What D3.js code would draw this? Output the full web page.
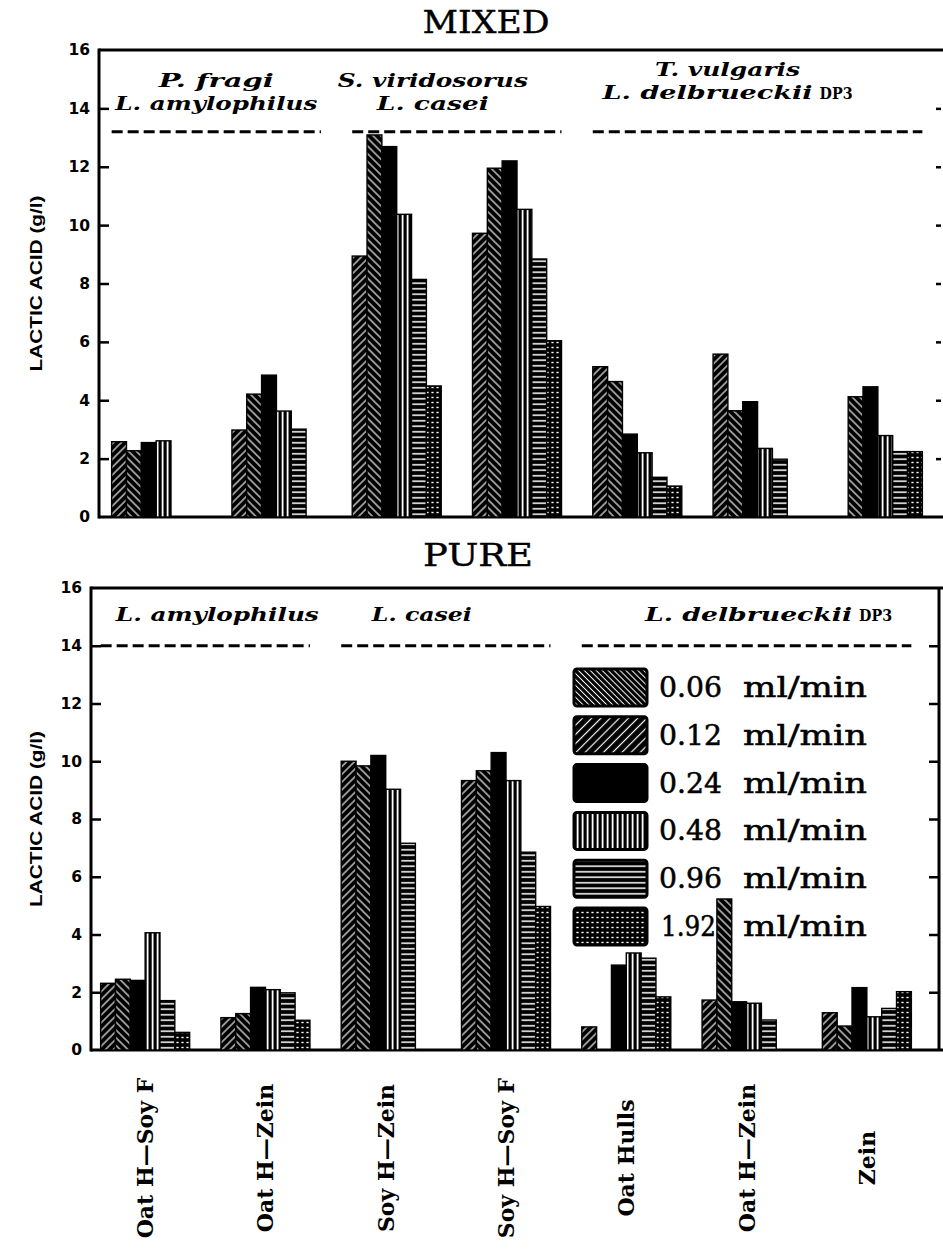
<!DOCTYPE html>
<html><head><meta charset="utf-8">
<script src="https://cdn.jsdelivr.net/npm/d3@7"></script>
<style>body{margin:0;background:#fff} svg{display:block}</style>
</head><body>
<svg id="chart" width="943" height="1252"></svg>
<script>
// ---------- DATA ----------
const categories = ["Oat H\u2014Soy F","Oat H\u2014Zein","Soy H\u2014Zein","Soy H\u2014Soy F","Oat Hulls","Oat H\u2014Zein","Zein"];
const flowRates = ["0.06","0.12","0.24","0.48","0.96","1.92"];
const flowUnit = "ml/min";
const yTicks = [0,2,4,6,8,10,12,14,16];

// MIXED culture, lactic acid (g/l), one array per flow rate, one value per category
const mixed006 = [2.58, 2.98, 8.94, 9.72, 5.15, 5.58, 0];
const mixed012 = [2.27, 4.21, 13.09, 11.95, 4.64, 3.64, 4.12];
const mixed024 = [2.55, 4.86, 12.69, 12.20, 2.84, 3.95, 4.46];
const mixed048 = [2.61, 3.63, 10.37, 10.54, 2.20, 2.35, 2.79];
const mixed096 = [0, 3.01, 8.14, 8.84, 1.36, 1.98, 2.24];
const mixed192 = [0, 0, 4.49, 6.04, 1.06, 0, 2.24];

// PURE culture
const pure006 = [2.31, 1.12, 10.00, 9.33, 0.80, 1.73, 1.29];
const pure012 = [2.45, 1.26, 9.84, 9.67, 0, 5.23, 0.83];
const pure024 = [2.41, 2.17, 10.20, 10.30, 2.94, 1.67, 2.16];
const pure048 = [4.06, 2.09, 9.03, 9.33, 3.36, 1.62, 1.15];
const pure096 = [1.71, 1.98, 7.16, 6.85, 3.18, 1.04, 1.44];
const pure192 = [0.61, 1.03, 0, 4.97, 1.84, 0, 2.02];

// organism annotations: which categories each covers
const organismSpans = [[0,1],[2,3],[4,6]];
const mixedOrganisms = [["P. fragi","L. amylophilus"],["S. viridosorus","L. casei"],["T. vulgaris","L. delbrueckii"]];
const pureOrganisms = [["L. amylophilus"],["L. casei"],["L. delbrueckii"]];
const strainTags = ["","","DP3"];
const dividerLevels = [13.2, 14];   // dashed separator level (g/l) : mixed, pure

// ---------- STYLE / LAYOUT ----------
const W = 943, H = 1252;
const barPatterns = ["fwd","back","solid","vert","horiz","dots"];
const legendPatterns = ["backDense","fwdWide","solid","vert","horiz","dots"];

const panels = [
  { title:"MIXED", series:[mixed006,mixed012,mixed024,mixed048,mixed096,mixed192],
    orgs:mixedOrganisms, divider:dividerLevels[0],
    left:99, right:941, top:50, bottom:517, band:[96,938], rightTick:5, rightLine:false,
    titleX:486, titleY:33, titleLen:127,
    lineBase:[[37,60],[37,60],[26,49]], labelShift:[0,-24,-30],
    lineLen:[[115,202],[190,112],[145,210]] },
  { title:"PURE", series:[pure006,pure012,pure024,pure048,pure096,pure192],
    orgs:pureOrganisms, divider:dividerLevels[1],
    left:91, right:939, top:588, bottom:1050, band:[85,927], rightTick:10, rightLine:true,
    titleX:478, titleY:566, titleLen:110,
    lineBase:[[33],[33],[33]], labelShift:[12,-24,22],
    lineLen:[[203],[100],[207]] }
];

const svg = d3.select("#chart");
svg.append("rect").attr("width",W).attr("height",H).attr("fill","#fff");
const defs = svg.append("defs");

function hatch(id, period, angle, lw){
  const p = defs.append("pattern").attr("id",id).attr("patternUnits","userSpaceOnUse")
    .attr("width",period).attr("height",period).attr("patternTransform",`rotate(${angle})`);
  p.append("rect").attr("width",period).attr("height",period).attr("fill","#000");
  p.append("rect").attr("x",(period-lw)/2).attr("width",lw).attr("height",period).attr("fill","#fff");
}
hatch("fwd",5.5,45,1.1);
hatch("back",5.5,-45,1.1);
hatch("backDense",4.2,-45,1.0);
hatch("fwdWide",6.5,45,1.2);
(function(){
  let p = defs.append("pattern").attr("id","vert").attr("patternUnits","userSpaceOnUse").attr("width",5).attr("height",5);
  p.append("rect").attr("width",5).attr("height",5).attr("fill","#000");
  p.append("rect").attr("x",1.7).attr("width",1.8).attr("height",5).attr("fill","#fff");
  p = defs.append("pattern").attr("id","horiz").attr("patternUnits","userSpaceOnUse").attr("width",5).attr("height",5.5);
  p.append("rect").attr("width",5).attr("height",5.5).attr("fill","#000");
  p.append("rect").attr("y",2).attr("width",5).attr("height",1.5).attr("fill","#fff");
  p = defs.append("pattern").attr("id","dots").attr("patternUnits","userSpaceOnUse").attr("width",5).attr("height",5);
  p.append("rect").attr("width",5).attr("height",5).attr("fill","#000");
  p.append("rect").attr("x",1.4).attr("y",1.8).attr("width",2.2).attr("height",1.4).attr("fill","#fff");
})();
const fillOf = id => id === "solid" ? "#000" : `url(#${id})`;

panels.forEach((P, pi) => {
  const g = svg.append("g");
  const y = d3.scaleLinear().domain([0,16]).range([P.bottom, P.top]);
  const xb = d3.scaleBand().domain(d3.range(categories.length)).range(P.band)
    .paddingInner(0.26).paddingOuter(0.13);
  const xs = d3.scaleBand().domain(d3.range(flowRates.length)).range([0, xb.bandwidth()]);

  // title
  g.append("text").attr("x",P.titleX).attr("y",P.titleY).attr("text-anchor","middle")
    .attr("font-family","'DejaVu Serif', serif").attr("font-size",31)
    .attr("stroke","#000").attr("stroke-width",0.4)
    .attr("textLength",P.titleLen).attr("lengthAdjust","spacingAndGlyphs").text(P.title);

  // y axis (left, ticks inward)
  const ax = g.append("g").attr("transform",`translate(${P.left},0)`)
    .call(d3.axisLeft(y).tickValues(yTicks).tickSize(-10).tickPadding(9).tickFormat(d3.format("d")));
  ax.select(".domain").remove();
  ax.selectAll(".tick line").attr("stroke","#000").attr("stroke-width",2.5);
  ax.selectAll(".tick text").attr("font-family","'DejaVu Sans', sans-serif").attr("font-weight","bold")
    .attr("font-size",15.5).attr("fill","#000");
  ax.selectAll(".tick").filter(d => d === 16 || d === 0).select("line").remove();

  // right ticks
  const ar = g.append("g").attr("transform",`translate(${P.right},0)`)
    .call(d3.axisRight(y).tickValues(yTicks.filter(d=>d>0 && d<16)).tickSize(-P.rightTick).tickFormat(""));
  ar.select(".domain").remove();
  ar.selectAll(".tick line").attr("stroke","#000").attr("stroke-width",2.5);

  // frame
  const fr = g.append("g").attr("stroke","#000").attr("stroke-width",3).attr("fill","none");
  fr.append("line").attr("x1",P.left).attr("x2",W).attr("y1",P.top).attr("y2",P.top);
  fr.append("line").attr("x1",P.left).attr("x2",P.left).attr("y1",P.top-1.5).attr("y2",P.bottom+1.5);
  fr.append("line").attr("x1",P.left).attr("x2",W).attr("y1",P.bottom).attr("y2",P.bottom);
  if (P.rightLine) fr.append("line").attr("x1",P.right).attr("x2",P.right).attr("y1",P.top).attr("y2",P.bottom);

  // y title
  const cy = (P.top + P.bottom) / 2;
  g.append("text").attr("transform",`translate(42,${cy}) rotate(-90)`).attr("text-anchor","middle")
    .attr("font-family","'Liberation Sans Narrow','Liberation Sans',Arial,sans-serif").attr("font-weight","bold")
    .attr("font-size",16).attr("textLength",176).attr("lengthAdjust","spacingAndGlyphs")
    .text("LACTIC ACID (g/l)");

  // organism labels and dashed separators
  organismSpans.forEach((span, k) => {
    const x0 = xb(span[0]), x1 = xb(span[1]) + xb.bandwidth();
    g.append("line").attr("x1",x0).attr("x2",x1).attr("y1",y(P.divider)).attr("y2",y(P.divider))
      .attr("stroke","#000").attr("stroke-width",3).attr("stroke-dasharray","11,5");
    const cx = (x0 + x1) / 2 + P.labelShift[k];
    P.orgs[k].forEach((name, li) => {
      const isLast = li === P.orgs[k].length - 1;
      const tag = isLast ? strainTags[k] : "";
      const nameLen = P.lineLen[k][li];
      const total = nameLen + (tag ? 40 : 0);
      const t = g.append("text").attr("x", cx - total/2).attr("y", P.top + P.lineBase[k][li]);
      t.append("tspan").attr("font-family","'DejaVu Serif', serif").attr("font-weight","bold")
        .attr("font-style","italic").attr("font-size",19)
        .attr("textLength",nameLen).attr("lengthAdjust","spacingAndGlyphs").text(name);
      if (tag) t.append("tspan").attr("dx",7).attr("font-family","'DejaVu Serif', serif")
        .attr("font-weight","bold").attr("font-size",16)
        .attr("textLength",33).attr("lengthAdjust","spacingAndGlyphs").text(tag);
    });
  });

  // legend (pure panel), drawn beneath the bars
  if (pi === 1) {
    const lg = g.append("g");
    flowRates.forEach((rate, s) => {
      const ty = 669 + s * 47.8;
      lg.append("rect").attr("x",574).attr("y",ty).attr("width",73).attr("height",37).attr("rx",3)
        .attr("fill",fillOf(legendPatterns[s])).attr("stroke","#000").attr("stroke-width",3);
      const narrow = rate.startsWith("1");
      const t = lg.append("text").attr("y",ty+28)
        .attr("font-family","'DejaVu Serif', serif").attr("font-size",27)
        .attr("stroke","#000").attr("stroke-width",0.5);
      t.append("tspan").attr("x", narrow ? 661 : 659)
        .attr("textLength", narrow ? 55 : 63).attr("lengthAdjust","spacingAndGlyphs").text(rate);
      t.append("tspan").attr("x",743).attr("textLength",124).attr("lengthAdjust","spacingAndGlyphs").text(flowUnit);
    });
  }

  // bars
  P.series.forEach((vals, s) => {
    g.append("g").selectAll("rect")
      .data(vals.map((v,i)=>({v,i})).filter(d => d.v > 0))
      .join("rect")
      .attr("x", d => xb(d.i) + xs(s))
      .attr("y", d => y(d.v))
      .attr("width", xs.bandwidth())
      .attr("height", d => y(0) - y(d.v))
      .attr("fill", fillOf(barPatterns[s]))
      .attr("stroke","#000").attr("stroke-width",1.4);
  });

  // category labels (bottom panel only)
  if (pi === 1) {
    g.append("g").selectAll("text").data(categories).join("text")
      .attr("transform",(d,i)=>`translate(${xb(i)+xb.bandwidth()/2+8},1158) rotate(-90)`)
      .attr("text-anchor","middle")
      .attr("font-family","'DejaVu Serif', serif").attr("font-weight","bold").attr("font-size",22)
      .text(d=>d);
  }
});
</script>
</body></html>
